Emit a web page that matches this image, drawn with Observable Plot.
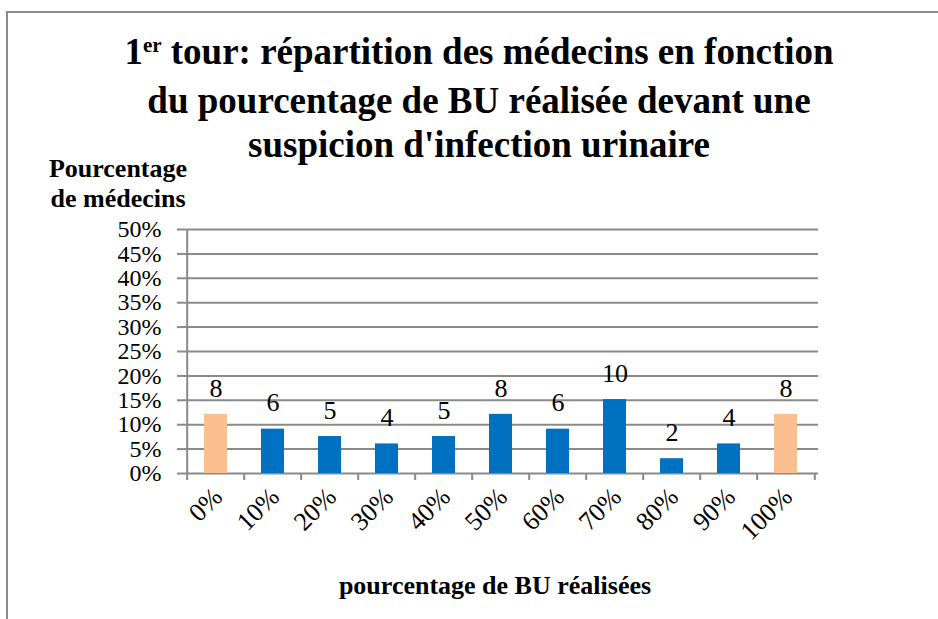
<!DOCTYPE html>
<html><head><meta charset="utf-8">
<script src="https://cdn.jsdelivr.net/npm/d3@7"></script>
<script src="https://cdn.jsdelivr.net/npm/@observablehq/plot@0.6"></script>
<style>
body{margin:0;background:#fff;}
#wrap{position:relative;width:938px;height:619px;overflow:hidden;font-family:"Liberation Serif","Times New Roman",serif;color:#000;}
#frame{position:absolute;left:6px;top:11px;width:1000px;height:700px;border-left:2px solid #8a8a8a;border-top:2px solid #8a8a8a;box-sizing:border-box;}
#chart{position:absolute;left:0;top:0;}
#title{position:absolute;left:0;width:958px;top:30px;text-align:center;font-weight:bold;font-size:37px;line-height:44px;}
#title sup{font-size:21px;vertical-align:0;position:relative;top:-12px;}
#ylab{position:absolute;left:18px;width:200px;top:154px;text-align:center;font-weight:bold;font-size:26px;line-height:30px;}
#xlab{position:absolute;left:0;width:990px;top:571px;text-align:center;font-weight:bold;font-size:26px;line-height:30px;}
</style></head>
<body>
<div id="wrap">
<div id="frame"></div>
<div id="chart"></div>
<div id="title">1<sup>er</sup> tour: répartition des médecins en fonction<br>du pourcentage de BU réalisée devant une<br>suspicion d'infection urinaire</div>
<div id="ylab">Pourcentage<br>de médecins</div>
<div id="xlab">pourcentage de BU réalisées</div>
</div>
<script>
const categories = ["0%","10%","20%","30%","40%","50%","60%","70%","80%","90%","100%"];
const counts = [8,6,5,4,5,8,6,10,2,4,8];
const groups = ["extrême","intermédiaire","intermédiaire","intermédiaire","intermédiaire","intermédiaire","intermédiaire","intermédiaire","intermédiaire","intermédiaire","extrême"];
const yTicks = [0,0.05,0.10,0.15,0.20,0.25,0.30,0.35,0.40,0.45,0.50];

const total = d3.sum(counts);
const data = categories.map((c,i)=>({cat:c, count:counts[i], pct:counts[i]/total, group:groups[i]}));
const gray = "#8a8a8a";
const mL = 184, mR = 120;
const step = (938-mL-mR)/categories.length;

const chart = Plot.plot({
  width:938, height:619,
  marginLeft:mL, marginRight:mR, marginTop:229, marginBottom:146,
  x:{domain:categories, paddingInner:0.59, paddingOuter:0.295},
  y:{domain:[0,0.5]},
  color:{domain:["extrême","intermédiaire"], range:["#FAC090","#0070C0"]},
  style:{fontFamily:"'Liberation Serif','Times New Roman',serif", fontSize:"26px", color:"#000", background:"transparent", overflow:"visible"},
  marks:[
    Plot.gridY({ticks:yTicks, stroke:gray, strokeOpacity:1, strokeWidth:2}),
    Plot.ruleX([categories[0]], {x:d=>d, dx:-step/2, y1:0, y2:0.5, stroke:gray, strokeWidth:2}),
    Plot.axisY({ticks:yTicks, tickFormat:d3.format(".0%"), tickSize:7, tickPadding:16, stroke:gray, strokeWidth:2, fill:"#000", fontSize:24, label:null}),
    Plot.axisX({ticks:categories, tickSize:7, tickFormat:()=>"", dx:-step/2, stroke:gray, strokeWidth:2, label:null}),
    Plot.axisX({ticks:[categories[categories.length-1]], tickSize:7, tickFormat:()=>"", dx:step/2, stroke:gray, strokeWidth:2, label:null}),
    Plot.axisX({ticks:categories, tickSize:0, tickPadding:19, tickRotate:-45, dx:2, fill:"#000", fontSize:26, label:null}),
    Plot.barY(data, {x:"cat", y:"pct", fill:"group"}),
    Plot.text(data, {x:"cat", y:"pct", text:d=>String(d.count), dy:-26, fontSize:26, fill:"#000"})
  ]
});
document.getElementById("chart").appendChild(chart);
</script>
</body></html>
